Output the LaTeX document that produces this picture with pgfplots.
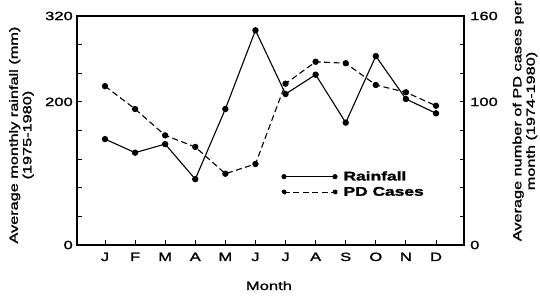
\documentclass[border=0pt]{standalone}
\usepackage{pgfplots}
\pgfplotsset{compat=1.18}
\usepackage{fontspec}
\setmainfont[FakeStretch=1.38, FakeBold=1.6]{Liberation Sans}
\begin{document}
\begin{tikzpicture}
\pgfplotsset{
  every axis/.append style={
    scale only axis, width=387pt, height=229pt,
    xmin=-0.93, xmax=11.93,
    tick align=inside,
    axis line style={line width=1.1pt},
    every tick/.style={black, line width=0.9pt},
    major tick length=4.5pt,
    font=\fontsize{12}{14}\selectfont,
    /pgf/number format/assume math mode=true,
  },
}
\begin{axis}[
  name=main,
  ymin=0, ymax=320,
  xtick={0,...,11},
  xticklabels={J,F,M,A,M,J,J,A,S,O,N,D},
  xtick pos=bottom,
  xticklabel style={anchor=base, yshift=-16pt},
  ytick={0,40,...,320},
  yticklabels={0,,,,,200,,,320},
  ytick pos=left,
  yticklabel style={anchor=east, inner sep=0pt, xshift=-4pt},
  xlabel={Month},
  xlabel style={at={(rel axis cs:0.496,0)}, anchor=base, yshift=-45pt},
  ylabel={Average monthly rainfall (mm)\\(1975-1980)},
  ylabel style={at={(rel axis cs:-0.1434,0.48)}, anchor=center, align=center, font=\fontsize{11.8}{13.5}\selectfont},
]
\addplot[black, line width=1.1pt, mark=*, mark size=2.6pt] coordinates {
(0,148) (1,129) (2,141) (3,92) (4,190) (5,300) (6,211) (7,238) (8,171) (9,264) (10,204) (11,184)
};
\end{axis}
\begin{axis}[
  ymin=0, ymax=160,
  hide x axis,
  axis y line*=right,
  ytick={0,20,...,160},
  yticklabels={0,,,,,100,,,160},
  yticklabel style={anchor=west, inner sep=0pt, xshift=6pt},
  ylabel={Average number of PD cases per\\month (1974-1980)},
  ylabel style={at={(rel axis cs:1.1576,0.5415)}, anchor=center, align=center, font=\fontsize{11.8}{13.5}\selectfont},
  legend style={draw=none, fill=none, at={(rel axis cs:0.52,0.34)}, anchor=north west,
    font=\fontsize{12.6}{14}\selectfont\bfseries, row sep=1pt,
    legend cell align=left},
  legend image code/.code={
    \draw[#1, mark=none] (0pt,0pt) -- (51pt,0pt);
    \fill[black] (0pt,0pt) circle (2pt);
    \fill[black] (51pt,0pt) circle (2pt);
    \path (57pt,0pt);
  },
]
\addlegendimage{black, line width=1.1pt}
\addlegendentry{Rainfall}
\addplot[black, line width=1.1pt, dash pattern=on 6pt off 3.5pt, mark=*, mark size=2.6pt, mark options={solid}] coordinates {
(0,111) (1,95) (2,76.6) (3,68.5) (4,49.8) (5,56.6) (6,112.7) (7,128) (8,127) (9,111.8) (10,106.7) (11,97.3)
};
\addlegendentry{PD Cases}
\end{axis}
\pgfresetboundingbox
\path (main.south west) ++(-77pt,-51pt) rectangle ++(540pt,296pt);
\end{tikzpicture}
\end{document}
